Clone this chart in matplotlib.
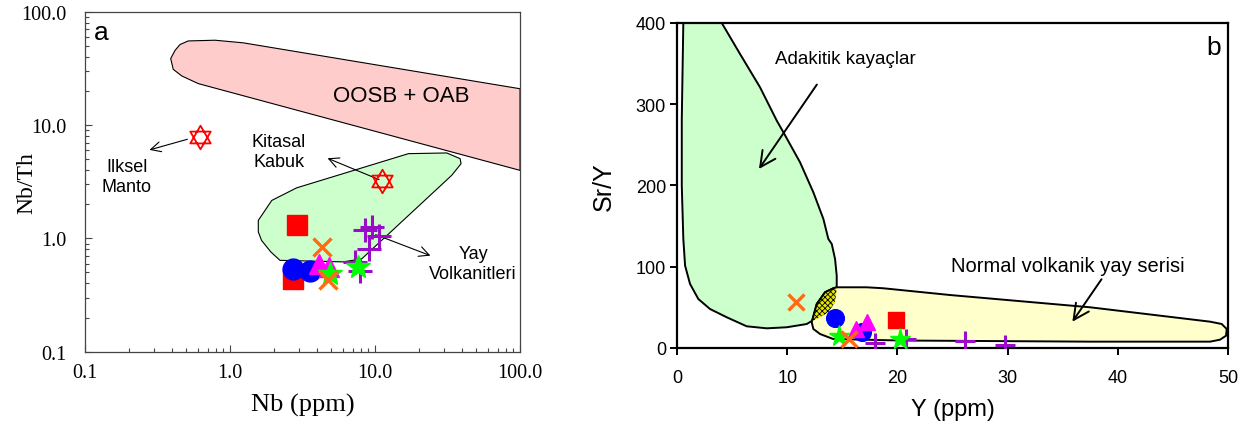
import numpy as np
import matplotlib
matplotlib.use('Agg')
import matplotlib.pyplot as plt
from matplotlib.path import Path
from matplotlib.patches import Polygon
from matplotlib.ticker import FixedLocator, FixedFormatter, LogLocator, NullFormatter

SANS = 'Liberation Sans'
SERIF = 'Liberation Serif'

RED = '#ff0000'
BLUE = '#0000ff'
MAGENTA = '#ff00ff'
ORANGE = '#ff6a13'
GREEN = '#00ff00'
PURPLE = '#9a0cc8'

# ---- a: Nb vs Nb/Th ----
nb_square = [2.91, 2.73]
nbth_square = [1.32, 0.44]
nb_circle = [2.73, 3.56]
nbth_circle = [0.54, 0.52]
nb_triangle = [4.11, 4.84]
nbth_triangle = [0.60, 0.56]
nb_cross = [4.33, 4.76]
nbth_cross = [0.84, 0.43]
nb_plus = [8.5, 9.5, 10.7, 9.1, 7.3, 7.9]
nbth_plus = [1.18, 1.27, 1.04, 0.81, 0.62, 0.52]
nb_star = [4.90, 7.67]
nbth_star = [0.48, 0.56]

# primitive mantle, continental crust
nb_ref = [0.62, 11.2]
nbth_ref = [7.9, 3.2]

# field boundaries
oosb_nb = [0.515, 0.789, 1.235, 100, 100, 0.604, 0.465, 0.406, 0.390, 0.418, 0.452]
oosb_nbth = [55.2, 56.0, 53.1, 20.9, 3.98, 23.2, 27.1, 31.0, 38.6, 45.6, 51.3]
crust_nb = [1.567, 1.94, 2.88, 17.0, 31.2, 38.6, 39.2, 33.8, 11.4, 8.1, 6.04, 2.21, 1.91, 1.65, 1.567]
crust_nbth = [1.44, 2.16, 2.79, 5.59, 5.67, 5.05, 4.56, 3.60, 0.99, 0.66, 0.62, 0.64, 0.76, 0.96, 1.14]

log_ticks = [0.1, 1.0, 10.0, 100.0]
log_labels = ['0.1', '1.0', '10.0', '100.0']

# ---- b: Y vs Sr/Y ----
y_square = [19.9]
sry_square = [34.8]
y_circle = [14.3, 16.8]
sry_circle = [36.5, 19.3]
y_triangle = [17.2, 16.2]
sry_triangle = [32.0, 23.4]
y_plus = [18.0, 20.8, 26.1, 29.8]
sry_plus = [6.2, 11.0, 8.2, 3.7]
y_star = [14.7, 20.2]
sry_star = [15.0, 11.0]
y_cross = [10.8, 15.6]
sry_cross = [57.0, 11.0]

adakite_y = [0.57, 4.06, 5.72, 7.53, 9.05, 9.65, 11.16, 12.37, 13.28, 13.73, 14.04, 14.34,
             14.49, 14.49, 14.34, 13.73, 12.68, 12.22, 11.77, 9.95, 8.14, 6.32, 4.51, 2.99,
             1.93, 1.18, 0.73, 0.57, 0.43, 0.43]
adakite_sry = [400, 400, 361.8, 320.9, 279.8, 265.5, 228.6, 191.6, 158.8, 134.2, 128, 109.5,
               89.0, 74.7, 56.2, 43.9, 35.7, 33.2, 29.5, 25.5, 24.2, 26.7, 37.8, 48.0,
               60.3, 78.8, 101.3, 134.2, 199.8, 281.8]
arc_y = [12.22, 12.68, 13.43, 14.18, 14.49, 17.21, 18.72, 24.77, 37.48, 48.37, 49.43, 49.88,
         49.82, 49.27, 48.37, 37.48, 20.24, 14.16, 12.98, 12.37]
arc_sry = [31.6, 54.2, 68.6, 73.5, 74.7, 74.7, 73.5, 65.2, 50.1, 32.4, 29.5, 23.4,
           15.1, 10.2, 7.8, 7.8, 9.2, 11.1, 17.2, 23.4]


def hexagram():
    up = np.deg2rad([90, 210, 330])
    dn = np.deg2rad([270, 30, 150])
    verts = list(zip(np.cos(up), np.sin(up))) + [(0, 0)]
    verts += list(zip(np.cos(dn), np.sin(dn))) + [(0, 0)]
    codes = [Path.MOVETO, Path.LINETO, Path.LINETO, Path.CLOSEPOLY] * 2
    return Path(verts, codes)


def draw_samples(ax, pts, scale=1.0):
    sq, ci, tr, pl, st, cr = pts
    ax.plot(*sq, ls='none', marker='s', ms=14 * scale, color=RED, zorder=5)
    ax.plot(*ci, ls='none', marker='o', ms=15 * scale, color=BLUE, zorder=5)
    ax.plot(*tr, ls='none', marker='^', ms=14 * scale, color=MAGENTA, zorder=5)
    ax.plot(*pl, ls='none', marker='+', ms=17 * scale, mew=2.2, color=PURPLE, zorder=5)
    ax.plot(*st, ls='none', marker='*', ms=18 * scale, color=GREEN, zorder=5)
    ax.plot(*cr, ls='none', marker='x', ms=13 * scale, mew=2.4, color=ORANGE, zorder=5)


fig = plt.figure(figsize=(12.48, 4.27), dpi=100)

# ---------- panel a ----------
ax1 = fig.add_axes([0.0681, 0.1740, 0.3486, 0.7963])
ax1.set_xscale('log')
ax1.set_yscale('log')
ax1.set_xlim(0.1, 100)
ax1.set_ylim(0.1, 100)

ax1.add_patch(Polygon(list(zip(oosb_nb, oosb_nbth)), closed=True, fc='#ffcccc',
                      ec='black', lw=0.8, zorder=1))
ax1.add_patch(Polygon(list(zip(crust_nb, crust_nbth)), closed=True, fc='#ccffcc',
                      ec='black', lw=0.8, zorder=1))

draw_samples(ax1, [(nb_square, nbth_square), (nb_circle, nbth_circle),
                   (nb_triangle, nbth_triangle), (nb_plus, nbth_plus),
                   (nb_star, nbth_star), (nb_cross, nbth_cross)])
ax1.plot(nb_ref, nbth_ref, ls='none', marker=hexagram(), ms=17, mfc='none',
         mec=RED, mew=1.3, zorder=6)

arrow_a = dict(arrowstyle='->', lw=0.8, color='black', mutation_scale=18)
ax1.annotate('', xy=(0.267, 5.94), xytext=(0.53, 7.6), arrowprops=arrow_a)
ax1.annotate('', xy=(4.52, 5.2), xytext=(11.1, 3.23), arrowprops=arrow_a)
ax1.annotate('', xy=(25.1, 0.69), xytext=(9.7, 1.10), arrowprops=arrow_a)

ax1.text(15.1, 18.3, 'OOSB + OAB', fontsize=16, family=SANS, ha='center', va='center')
ax1.text(0.194, 3.5, 'Ilksel\nManto', fontsize=13, family=SANS, ha='center', va='center',
         linespacing=1.2)
ax1.text(2.18, 5.82, 'Kitasal\nKabuk', fontsize=13, family=SANS, ha='center', va='center',
         linespacing=1.2)
ax1.text(47.5, 0.60, 'Yay\nVolkanitleri', fontsize=13, family=SANS, ha='center', va='center',
         linespacing=1.2)
ax1.text(0.038, 0.94, 'a', transform=ax1.transAxes, fontsize=19, family=SANS,
         ha='center', va='center')

for ax_ in (ax1.xaxis, ax1.yaxis):
    ax_.set_major_locator(FixedLocator(log_ticks))
    ax_.set_major_formatter(FixedFormatter(log_labels))
    ax_.set_minor_locator(LogLocator(base=10, subs=np.arange(2, 10)))
    ax_.set_minor_formatter(NullFormatter())
ax1.tick_params(which='both', direction='in', color='#444444', width=0.8)
ax1.tick_params(which='major', length=5, labelsize=14.5)
ax1.tick_params(axis='y', which='major', pad=13)
ax1.tick_params(axis='x', which='major', pad=8)
ax1.tick_params(which='minor', length=3)
for lab in ax1.get_xticklabels() + ax1.get_yticklabels():
    lab.set_family(SERIF)
for sp in ax1.spines.values():
    sp.set_color('#444444')
    sp.set_linewidth(0.9)
ax1.set_xlabel('Nb (ppm)', family=SERIF, fontsize=19, labelpad=8)
ax1.set_ylabel('Nb/Th', family=SERIF, fontsize=17)
ax1.yaxis.set_label_coords(-0.11, 0.5)

# ---------- panel b ----------
ax2 = fig.add_axes([0.5425, 0.1827, 0.4415, 0.7611])
ax2.set_xlim(0, 50)
ax2.set_ylim(0, 400)

adakite = Polygon(list(zip(adakite_y, adakite_sry)), closed=True, fc='#ccffcc',
                  ec='black', lw=1.4, zorder=1)
ax2.add_patch(adakite)
ax2.add_patch(Polygon(list(zip(arc_y, arc_sry)), closed=True, fc='#ffffcc',
                      ec='black', lw=1.4, zorder=1))
plt.rcParams['hatch.linewidth'] = 0.6
overlap = Polygon(list(zip(arc_y, arc_sry)), closed=True, fc='#e8e800',
                  ec='black', lw=1.4, hatch='xxxxxx', zorder=2)
ax2.add_patch(overlap)
overlap.set_clip_path(adakite)

draw_samples(ax2, [(y_square, sry_square), (y_circle, sry_circle),
                   (y_triangle, sry_triangle), (y_plus, sry_plus),
                   (y_star, sry_star), (y_cross, sry_cross)], scale=0.85)

arrow_b = dict(arrowstyle='->', lw=1.4, color='black', mutation_scale=28)
ax2.annotate('', xy=(7.29, 217.5), xytext=(12.83, 327), arrowprops=arrow_b)
ax2.annotate('', xy=(35.73, 29.5), xytext=(38.66, 87.4), arrowprops=arrow_b)

ax2.text(8.9, 355.7, 'Adakitik kayaçlar', fontsize=13.5, family=SANS, ha='left', va='center')
ax2.text(35.5, 102, 'Normal volkanik yay serisi', fontsize=14.5, family=SANS,
         ha='center', va='center')
ax2.text(0.973, 0.926, 'b', transform=ax2.transAxes, fontsize=19, family=SANS,
         ha='center', va='center')

ax2.set_xticks([0, 10, 20, 30, 40, 50])
ax2.set_yticks([0, 100, 200, 300, 400])
ax2.tick_params(direction='out', length=5, width=1.4, labelsize=13)
ax2.tick_params(axis='x', pad=10)
ax2.tick_params(axis='y', pad=3)
for lab in ax2.get_xticklabels() + ax2.get_yticklabels():
    lab.set_family(SANS)
for sp in ax2.spines.values():
    sp.set_linewidth(1.6)
ax2.set_xlabel('Y (ppm)', family=SANS, fontsize=17, labelpad=9)
ax2.set_ylabel('Sr/Y', family=SANS, fontsize=18, labelpad=14)

fig.savefig('out.png', dpi=100)
